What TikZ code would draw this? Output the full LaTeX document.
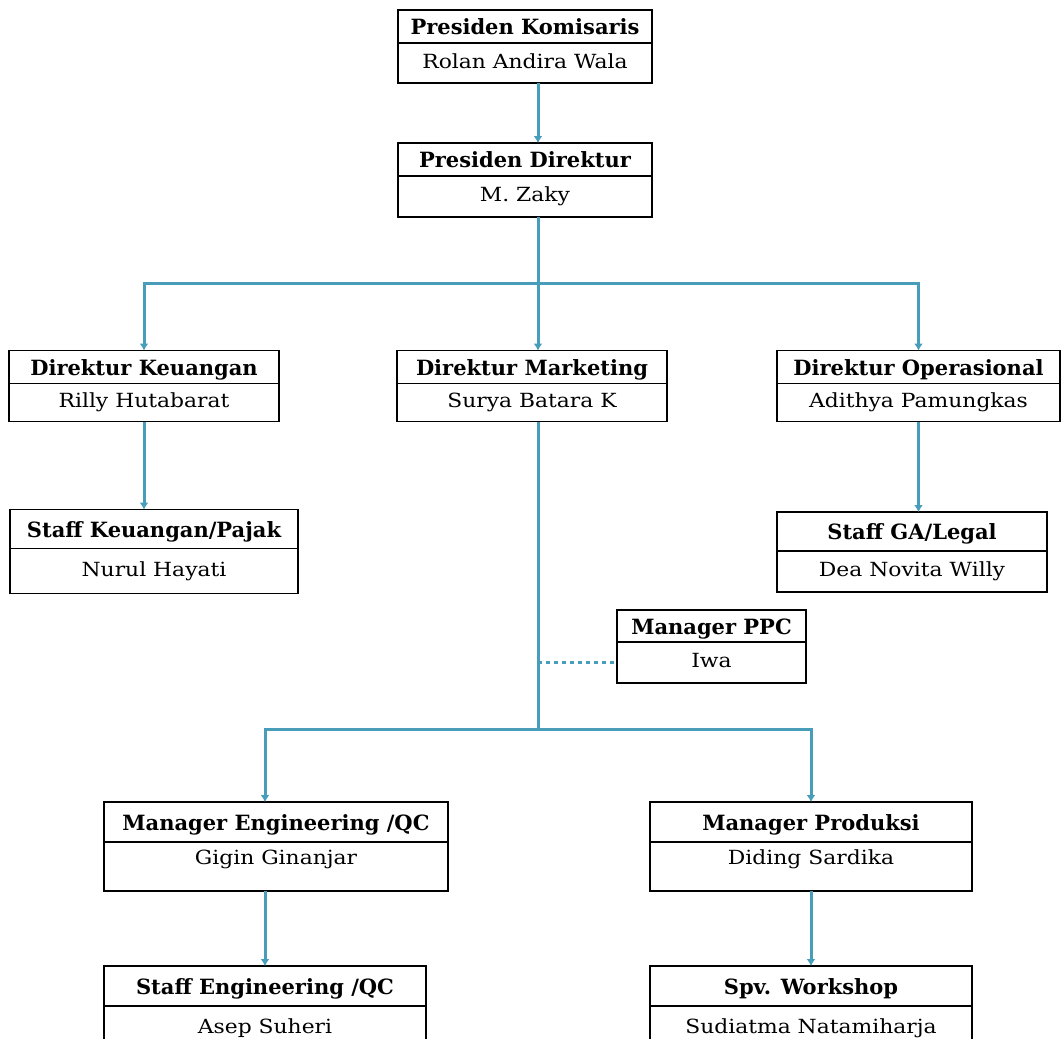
\documentclass[tikz,border=0pt]{standalone}
\usepackage{fontspec}
\setmainfont{DejaVu Serif}
\newfontfamily\namefont[FakeStretch=1.12]{DejaVu Serif}
\usepackage{tikz}
\usetikzlibrary{arrows.meta}
\tikzset{>={Latex[length=7pt,width=9pt]}}
\usepackage{xcolor}
\definecolor{myteal}{RGB}{72,158,186}
\tikzstyle{titlebox}=[draw,line width=1.8,font=\fontsize{21}{24}\selectfont\bfseries,minimum height=33,inner sep=0,outer sep=0,text height=16pt,text depth=0pt]
\tikzstyle{namebox}=[draw,line width=1.8,font=\namefont\fontsize{19.5}{23}\selectfont,minimum height=40,inner sep=0,outer sep=0,text height=14pt,text depth=4pt,anchor=north]
\tikzstyle{conn}=[myteal,line width=3]

\begin{document}
\begin{tikzpicture}[x=1pt,y=-1pt]
    \useasboundingbox (0,0) rectangle (1061,1039);
    \clip (0,0) rectangle (1061,1039);
    \coordinate (spine) at (538,0);

    % top
    \node[titlebox,minimum width=254] (pk) at (525,26.5) {Presiden Komisaris};
    \node[namebox,minimum width=254] (pkN) at (pk.south) {Rolan Andira Wala};
    \node[titlebox,minimum width=254] (pd) at (525,159.5) {Presiden Direktur};
    \node[namebox,minimum width=254,minimum height=41] (pdN) at (pd.south) {M. Zaky};

    % direktur
    \node[titlebox,minimum width=270] (dk) at (144,367) {Direktur Keuangan};
    \node[namebox,minimum width=270,minimum height=38] (dkN) at (dk.south) {Rilly Hutabarat};
    \node[titlebox,minimum width=270] (dm) at (532,367) {Direktur Marketing};
    \node[namebox,minimum width=270,minimum height=38] (dmN) at (dm.south) {Surya Batara K};
    \node[titlebox,minimum width=283] (do) at (918.5,367) {Direktur Operasional};
    \node[namebox,minimum width=283,minimum height=38] (doN) at (do.south) {Adithya Pamungkas};

    % staff
    \node[titlebox,minimum width=288,minimum height=39] (sk) at (154,529) {Staff Keuangan/Pajak};
    \node[namebox,minimum width=288,minimum height=45] (skN) at (sk.south) {Nurul Hayati};
    \node[titlebox,minimum width=270,minimum height=39] (sga) at (912,531.5) {Staff GA/Legal};
    \node[namebox,minimum width=270,minimum height=41] (sgaN) at (sga.south) {Dea Novita Willy};
    \node[titlebox,minimum width=189,minimum height=32] (ppc) at (711.5,626) {Manager PPC};
    \node[namebox,minimum width=189,minimum height=41] (ppcN) at (ppc.south) {Iwa};

    % manager
    \node[titlebox,minimum width=344,minimum height=40] (mEng) at (276,822) {Manager Engineering /QC};
    \node[namebox,minimum width=344,minimum height=49,text depth=19pt] (mEngN) at (mEng.south) {Gigin Ginanjar};
    \node[titlebox,minimum width=322,minimum height=40] (mPr) at (811,822) {Manager Produksi};
    \node[namebox,minimum width=322,minimum height=49,text depth=19pt] (mPrN) at (mPr.south) {Diding Sardika};
    \node[titlebox,minimum width=322,minimum height=40] (sEng) at (265,986) {Staff Engineering /QC};
    \node[namebox,minimum width=322,minimum height=45] (sEngN) at (sEng.south) {Asep Suheri};
    \node[titlebox,minimum width=322,minimum height=40] (spv) at (811,986) {Spv. Workshop};
    \node[namebox,minimum width=322,minimum height=45] (spvN) at (spv.south) {Sudiatma Natamiharja};

    \coordinate (bus1) at (538,283);
    \coordinate (bus2) at (538,729);

    \draw[conn,->] (pkN.south -| spine) -- (pd.north -| spine);
    \draw[conn] (pdN.south -| spine) -- (bus1);
    \draw[conn,->] (bus1) -| (dk.north);
    \draw[conn,->] (bus1) -| (do.north);
    \draw[conn,->] (bus1) -- (dm.north -| spine);
    \draw[conn,->] (dkN.south) -- (sk.north -| dkN.south);
    \draw[conn,->] (doN.south) -- (sga.north -| doN.south);

    \draw[conn] (dmN.south -| spine) -- (bus2);
    \draw[conn,dash pattern=on 4pt off 4pt] (ppcN.west -| spine) -- (ppcN.west);
    \draw[conn,->] (bus2) -| (mEng.north -| sEng.north);
    \draw[conn,->] (bus2) -| (mPr.north);
    \draw[conn,->] (mEngN.south -| sEng.north) -- (sEng.north);
    \draw[conn,->] (mPrN.south) -- (spv.north);

\end{tikzpicture}
\end{document}
